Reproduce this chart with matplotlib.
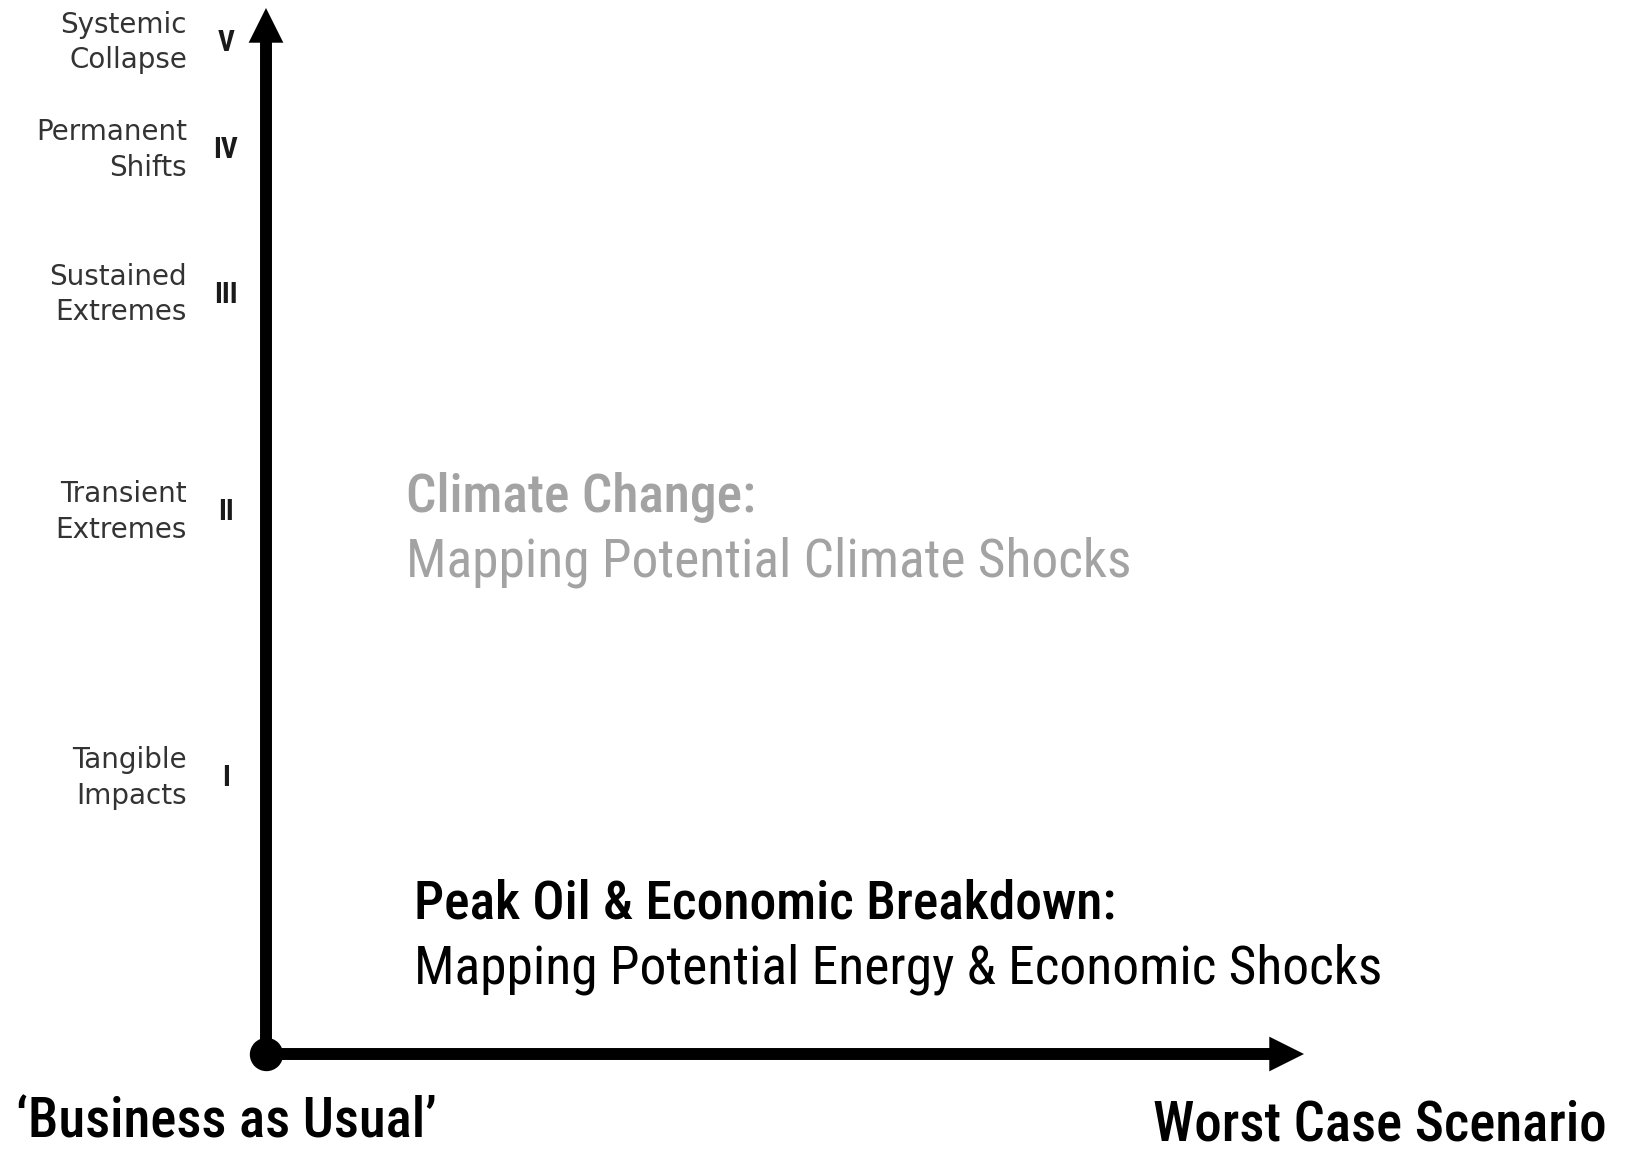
import matplotlib
matplotlib.use("Agg")
import matplotlib.pyplot as plt
from matplotlib.patches import FancyArrowPatch

# severity levels on the vertical axis (0 = origin, 100 = tip of arrow)
level_numerals = ["I", "II", "III", "IV", "V"]
level_names = ["Tangible\nImpacts", "Transient\nExtremes", "Sustained\nExtremes",
               "Permanent\nShifts", "Systemic\nCollapse"]
level_heights = [26.4, 51.8, 72.6, 86.4, 96.7]

# horizontal axis: scenario range
x_labels = ["\u2018Business as Usual\u2019", "Worst Case Scenario"]

# two panels of the report
titles = ["Climate Change:", "Peak Oil & Economic Breakdown:"]
subtitles = ["Mapping Potential Climate Shocks",
             "Mapping Potential Energy & Economic Shocks"]
title_colors = ["#a3a3a3", "#000000"]
title_heights = [50.1, 11.2]
title_x = [0.135, 0.143]

W, H = 1633, 1151
ox, oy = 266, 1054          # origin in pixels
x_len = 1038                 # pixels for x = 1
y_unit = 10.46               # pixels per level unit

fig = plt.figure(figsize=(W / 100, H / 100), dpi=100)
ax = fig.add_axes([0, 0, 1, 1])
ax.set_xlim(-ox / x_len, (W - ox) / x_len)
ax.set_ylim(-(H - oy) / y_unit, oy / y_unit)
ax.axis("off")

cond = ["Roboto Condensed", "DejaVu Sans"]

# axes arrows
arrow_style = "simple,head_length=2.5,head_width=2.5,tail_width=0.86"
ax.add_patch(FancyArrowPatch((0, 0), (0, 100), arrowstyle=arrow_style,
                             mutation_scale=10, color="black", lw=0,
                             shrinkA=0, shrinkB=0))
ax.add_patch(FancyArrowPatch((0, 0), (1, 0), arrowstyle=arrow_style,
                             mutation_scale=10, color="black", lw=0,
                             shrinkA=0, shrinkB=0))
ax.plot([0], [0], "o", color="black", ms=23, zorder=5)

# level labels
for num, name, h in zip(level_numerals, level_names, level_heights):
    ax.text(-79 / x_len, h, name, ha="right", va="center", fontsize=20,
            color="#333333", linespacing=1.35)
    ax.text(-40 / x_len, h, num, ha="center", va="center", fontsize=21,
            family=cond, fontweight="bold", color="#1a1a1a")

# panel titles
for t, s, c, h, x in zip(titles, subtitles, title_colors, title_heights, title_x):
    ax.text(x, h + 3.1, t, ha="left", va="center", fontsize=38.5,
            family=cond, fontweight="medium", color=c)
    ax.text(x, h - 3.1, s, ha="left", va="center", fontsize=38.5,
            family=cond, color=c)

# x-axis end labels
ax.text(-250 / x_len, -6.5, x_labels[0], ha="left", va="center",
        fontsize=39.5, family=cond, fontweight="medium", color="black")
ax.text((1607 - ox) / x_len, -6.8, x_labels[1], ha="right", va="center",
        fontsize=39.5, family=cond, fontweight="medium", color="black")

fig.savefig("out.png", dpi=100)
